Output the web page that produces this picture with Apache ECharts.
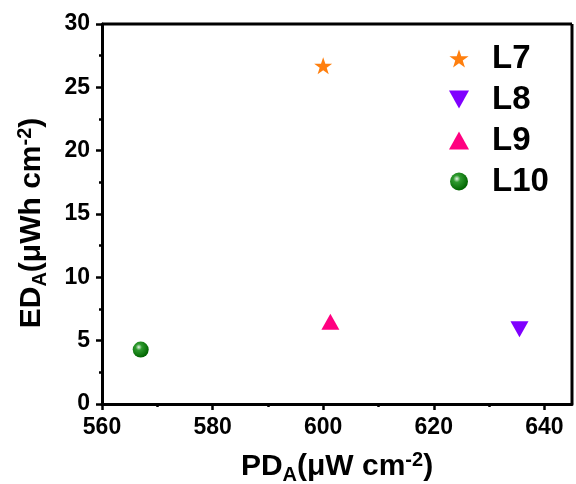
<!DOCTYPE html>
<html>
<head>
<meta charset="utf-8">
<script src="https://cdn.jsdelivr.net/npm/echarts@6/dist/echarts.min.js"></script>
<style>
html,body{margin:0;padding:0;background:#fff;}
#chart{width:576px;height:484px;}
</style>
</head>
<body>
<div id="chart"></div>
<script>
// Areal power density (x) vs areal energy density (y) for each device
const seriesNames = ['L7', 'L8', 'L9', 'L10'];
const pdValues = [600.0, 635.5, 601.3, 567.0];
const edValues = [26.7, 5.9, 6.5, 4.3];
const xTicks = [560, 580, 600, 620, 640];
const yTicks = [0, 5, 10, 15, 20, 25, 30];

const starPath = 'path://M50,0 L61.8,35.1 L98.9,35.1 L69.1,56.7 L80.3,91.9 L50,70.2 L19.7,91.9 L30.9,56.7 L1.1,35.1 L38.2,35.1 Z';
const downTriPath = 'path://M0,0 L100,0 L50,90 Z';
const upTriPath = 'path://M50,0 L100,90 L0,90 Z';

const styles = [
  { symbol: starPath, size: [18, 17], color: '#ff7f0e' },
  { symbol: downTriPath, size: [18, 16], color: '#8000ff' },
  { symbol: upTriPath, size: [18, 16], color: '#ff0080' },
  { symbol: 'circle', size: 16,
    color: { type: 'radial', x: 0.38, y: 0.35, r: 0.65,
      colorStops: [{ offset: 0, color: '#e8f5e8' }, { offset: 0.3, color: '#2e9a2e' }, { offset: 1, color: '#006400' }] } }
];

const font = 'Liberation Sans, Arial, sans-serif';
const titleRich = {
  a: { fontFamily: font, fontWeight: 'bold', fontSize: 30, color: '#000', lineHeight: 34 },
  s: { fontFamily: font, fontWeight: 'bold', fontSize: 20, color: '#000', padding: [16, 0, 0, 0] },
  p: { fontFamily: font, fontWeight: 'bold', fontSize: 20, color: '#000', padding: [0, 0, 14, 0] }
};

const chart = echarts.init(document.getElementById('chart'));
chart.setOption({
  backgroundColor: '#fff',
  animation: false,
  grid: { left: 102, right: 4, top: 24, bottom: 80, containLabel: false, outerBoundsMode: 'none' },
  legend: {
    orient: 'vertical',
    left: 444, top: 37,
    itemWidth: 20, itemHeight: 18, itemGap: 8,
    textStyle: { fontFamily: font, fontWeight: 'bold', fontSize: 33, color: '#000', padding: [0, 0, 0, 18] },
    data: seriesNames
  },
  xAxis: {
    type: 'value', min: 560, max: 645, interval: 20,
    name: '{a|PD}{s|A}{a|(μW cm}{p|-2}{a|)}',
    nameLocation: 'middle', nameGap: 45,
    nameTextStyle: { rich: titleRich },
    axisLine: { show: true, onZero: false, lineStyle: { color: '#000', width: 3 } },
    axisTick: { show: true, inside: false, length: 6, lineStyle: { color: '#000', width: 2.5 },
      customValues: xTicks },
    minorTick: { show: true, splitNumber: 2, length: 3, lineStyle: { color: '#000', width: 2.5 } },
    axisLabel: { fontFamily: font, fontWeight: 'bold', fontSize: 23, color: '#000', margin: 12,
      customValues: xTicks },
    splitLine: { show: false }
  },
  yAxis: {
    type: 'value', min: 0, max: 30, interval: 5,
    name: '{a|ED}{s|A}{a|(μWh cm}{p|-2}{a|)}',
    nameLocation: 'middle', nameGap: 52, nameRotate: 90,
    nameTextStyle: { rich: titleRich, padding: [0, 18, 0, 0] },
    axisLine: { show: true, onZero: false, lineStyle: { color: '#000', width: 3 } },
    axisTick: { show: true, inside: false, length: 6, lineStyle: { color: '#000', width: 2.5 } },
    minorTick: { show: true, splitNumber: 2, length: 3, lineStyle: { color: '#000', width: 2.5 } },
    axisLabel: { fontFamily: font, fontWeight: 'bold', fontSize: 23, color: '#000', margin: 12,
      formatter: v => (yTicks.indexOf(v) >= 0 ? String(v) : '') },
    splitLine: { show: false }
  },
  series: seriesNames.map((name, i) => ({
    name: name,
    type: 'scatter',
    symbol: styles[i].symbol,
    symbolSize: styles[i].size,
    itemStyle: { color: styles[i].color, opacity: 1 },
    data: [[pdValues[i], edValues[i]]]
  }))
});

// Top and right border lines closing the plot box
const tl = chart.convertToPixel({ gridIndex: 0 }, [560, 30]);
const br = chart.convertToPixel({ gridIndex: 0 }, [645, 0]);
chart.setOption({
  graphic: [
    { type: 'line', shape: { x1: tl[0], y1: tl[1], x2: br[0], y2: tl[1] }, style: { stroke: '#000', lineWidth: 3 }, z: 10 },
    { type: 'line', shape: { x1: br[0], y1: tl[1], x2: br[0], y2: br[1] }, style: { stroke: '#000', lineWidth: 3 }, z: 10 }
  ]
});
</script>
</body>
</html>
